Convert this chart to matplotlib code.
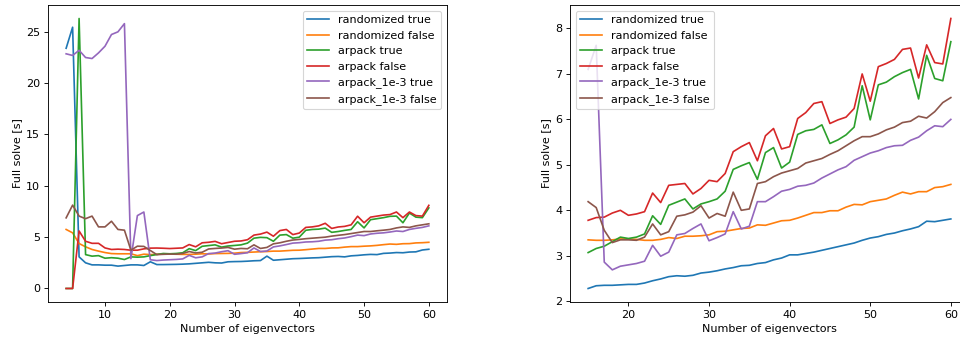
import matplotlib
matplotlib.use("Agg")
import matplotlib.pyplot as plt

# left panel: 4..60 eigenvectors
n_left = list(range(4, 61))
rand_true_left = [23.4, 25.45, 3.08, 2.5, 2.3, 2.3, 2.27, 2.27, 2.18, 2.24, 2.3, 2.3, 2.24, 2.6, 2.33,
                  2.33, 2.34, 2.35, 2.37, 2.4, 2.45, 2.5, 2.55, 2.5, 2.48, 2.6, 2.62, 2.63, 2.66, 2.7,
                  2.72, 3.15, 2.75, 2.8, 2.85, 2.9, 2.92, 2.95, 2.98, 3.0, 3.05, 3.1, 3.12, 3.08, 3.18,
                  3.22, 3.28, 3.32, 3.3, 3.42, 3.45, 3.5, 3.48, 3.55, 3.57, 3.75, 3.82]
rand_false_left = [5.75, 5.42, 4.38, 4.06, 3.8, 3.64, 3.5, 3.4, 3.38, 3.38, 3.38, 3.2, 3.34, 3.3,
                   3.33, 3.35, 3.35, 3.34, 3.32, 3.32, 3.34, 3.38, 3.36, 3.4, 3.41, 3.42, 3.44, 3.5,
                   3.52, 3.55, 3.58, 3.6, 3.64, 3.64, 3.68, 3.72, 3.73, 3.78, 3.84, 3.9, 3.9, 3.95,
                   3.96, 4.03, 4.08, 4.08, 4.12, 4.15, 4.2, 4.27, 4.33, 4.3, 4.36, 4.37, 4.44, 4.46, 4.5]
arpack_true_left = [0, 0, 26.3, 3.3, 3.15, 3.2, 2.95, 3.0, 2.95, 2.82, 3.08, 3.05, 3.08, 3.2,
                    3.31, 3.41, 3.38, 3.41, 3.48, 3.88, 3.69, 4.11, 4.18, 4.25, 4.03, 4.14, 4.19,
                    4.25, 4.42, 4.9, 4.98, 4.95, 4.6, 5.2, 5.25, 4.9, 5.0, 5.67, 5.75, 5.78, 5.88,
                    5.47, 5.55, 5.66, 5.75, 6.5, 5.9, 6.7, 6.8, 6.9, 7.03, 7.05, 6.4, 7.35, 6.95, 6.9, 7.85]
arpack_false_left = [0, 0, 5.6, 4.6, 4.4, 4.4, 3.95, 3.8, 3.83, 3.8, 3.73, 3.73, 3.86, 3.93,
                     3.94, 3.92, 3.89, 3.92, 3.95, 4.28, 4.06, 4.45, 4.5, 4.59, 4.36, 4.48, 4.6,
                     4.63, 4.75, 5.2, 5.3, 5.49, 5.09, 5.64, 5.75, 5.25, 5.4, 5.95, 6.0, 6.1, 6.35,
                     5.85, 5.99, 6.05, 6.2, 7.04, 6.4, 6.95, 7.05, 7.15, 7.2, 7.45, 6.9, 7.45, 7.1, 7.05, 8.1]
arpack3_true_left = [22.86, 22.7, 23.2, 22.5, 22.4, 22.95, 23.6, 24.74, 25.0, 25.8, 2.9, 7.1, 7.45, 2.8,
                     2.72, 2.77, 2.8, 2.83, 2.88, 3.23, 2.99, 3.08, 3.4, 3.45, 3.58, 3.68, 3.33, 3.4,
                     3.48, 3.95, 3.6, 3.65, 4.05, 4.15, 4.28, 4.42, 4.46, 4.53, 4.55, 4.6, 4.71, 4.75,
                     4.85, 4.92, 5.05, 5.2, 5.15, 5.31, 5.38, 5.42, 5.5, 5.6, 5.55, 5.75, 5.86, 5.95, 6.1]
arpack3_false_left = [6.88, 8.12, 7.05, 6.8, 7.05, 6.0, 6.0, 6.55, 5.75, 5.68, 3.73, 4.12, 4.1, 3.7,
                      3.3, 3.33, 3.35, 3.34, 3.41, 3.6, 3.46, 3.53, 3.85, 3.9, 3.94, 4.0, 3.83, 3.9,
                      3.87, 4.25, 3.9, 4.0, 4.35, 4.45, 4.6, 4.72, 4.78, 4.85, 4.9, 4.95, 5.0, 5.1,
                      5.18, 5.25, 5.35, 5.45, 5.55, 5.55, 5.62, 5.68, 5.75, 5.9, 6.0, 5.95, 6.1, 6.2, 6.3]

# right panel: 15..60 eigenvectors
n_right = list(range(15, 61))
rand_true_right = [2.28, 2.34, 2.35, 2.35, 2.36, 2.37, 2.37, 2.40, 2.45, 2.49, 2.54, 2.56, 2.55, 2.57,
                   2.62, 2.64, 2.67, 2.71, 2.74, 2.78, 2.79, 2.83, 2.85, 2.91, 2.95, 3.02, 3.02, 3.05,
                   3.08, 3.12, 3.16, 3.20, 3.24, 3.28, 3.34, 3.39, 3.42, 3.47, 3.50, 3.55, 3.59, 3.64,
                   3.76, 3.75, 3.78, 3.81]
rand_false_right = [3.35, 3.34, 3.34, 3.35, 3.37, 3.37, 3.36, 3.34, 3.34, 3.36, 3.40, 3.38, 3.43, 3.43,
                    3.44, 3.46, 3.53, 3.54, 3.57, 3.60, 3.61, 3.68, 3.67, 3.72, 3.77, 3.78, 3.83, 3.89,
                    3.95, 3.95, 3.99, 3.99, 4.07, 4.13, 4.12, 4.19, 4.22, 4.25, 4.33, 4.40, 4.36, 4.41,
                    4.41, 4.50, 4.52, 4.57]
arpack_true_right = [3.07, 3.16, 3.21, 3.31, 3.41, 3.38, 3.41, 3.48, 3.88, 3.69, 4.11, 4.18, 4.25, 4.03,
                     4.14, 4.19, 4.25, 4.42, 4.90, 4.98, 5.05, 4.68, 5.27, 5.38, 4.93, 5.06, 5.67, 5.75,
                     5.78, 5.88, 5.47, 5.55, 5.66, 5.83, 6.74, 5.99, 6.76, 6.82, 6.94, 7.03, 7.10, 6.45,
                     7.41, 6.90, 6.85, 7.71]
arpack_false_right = [3.78, 3.84, 3.85, 3.94, 4.00, 3.89, 3.92, 3.97, 4.38, 4.17, 4.55, 4.57, 4.59, 4.36,
                      4.48, 4.66, 4.63, 4.81, 5.29, 5.40, 5.49, 5.09, 5.64, 5.80, 5.35, 5.40, 6.02, 6.15,
                      6.35, 6.39, 5.91, 5.99, 6.05, 6.24, 7.00, 6.40, 7.16, 7.23, 7.32, 7.54, 7.57, 6.91,
                      7.64, 7.25, 7.22, 8.22]
arpack3_true_right = [7.10, 7.63, 2.86, 2.69, 2.77, 2.80, 2.83, 2.88, 3.23, 2.99, 3.08, 3.46, 3.49, 3.60,
                      3.70, 3.33, 3.40, 3.48, 3.97, 3.59, 3.65, 4.19, 4.19, 4.30, 4.42, 4.46, 4.53, 4.55,
                      4.60, 4.71, 4.80, 4.89, 4.96, 5.10, 5.18, 5.26, 5.31, 5.38, 5.42, 5.43, 5.54, 5.61,
                      5.75, 5.86, 5.84, 6.00]
arpack3_false_right = [4.19, 4.06, 3.56, 3.29, 3.35, 3.35, 3.34, 3.41, 3.70, 3.46, 3.53, 3.87, 3.90, 3.96,
                       4.10, 3.83, 3.93, 3.87, 4.40, 4.00, 4.03, 4.59, 4.63, 4.74, 4.82, 4.87, 4.92, 5.04,
                       5.09, 5.14, 5.23, 5.31, 5.42, 5.53, 5.62, 5.62, 5.68, 5.77, 5.83, 5.93, 5.96, 6.07,
                       6.03, 6.17, 6.37, 6.48]

labels = ['randomized true', 'randomized false', 'arpack true', 'arpack false',
          'arpack_1e-3 true', 'arpack_1e-3 false']

fig = plt.figure(figsize=(12, 4.275), dpi=80)
ax1 = fig.add_axes([0.05, 0.117, 0.4156, 0.8684])
ax2 = fig.add_axes([0.59375, 0.117, 0.4156, 0.8684])

left_series = [rand_true_left, rand_false_left, arpack_true_left, arpack_false_left,
               arpack3_true_left, arpack3_false_left]
right_series = [rand_true_right, rand_false_right, arpack_true_right, arpack_false_right,
                arpack3_true_right, arpack3_false_right]

for ys, lab in zip(left_series, labels):
    ax1.plot(n_left, ys, label=lab)
ax1.set_xlabel('Number of eigenvectors')
ax1.set_ylabel('Full solve [s]')
ax1.legend(loc='upper right')

for ys, lab in zip(right_series, labels):
    ax2.plot(n_right, ys, label=lab)
ax2.set_xlabel('Number of eigenvectors')
ax2.set_ylabel('Full solve [s]')
ax2.legend(loc='upper left')

fig.savefig('out.png', dpi=80)
